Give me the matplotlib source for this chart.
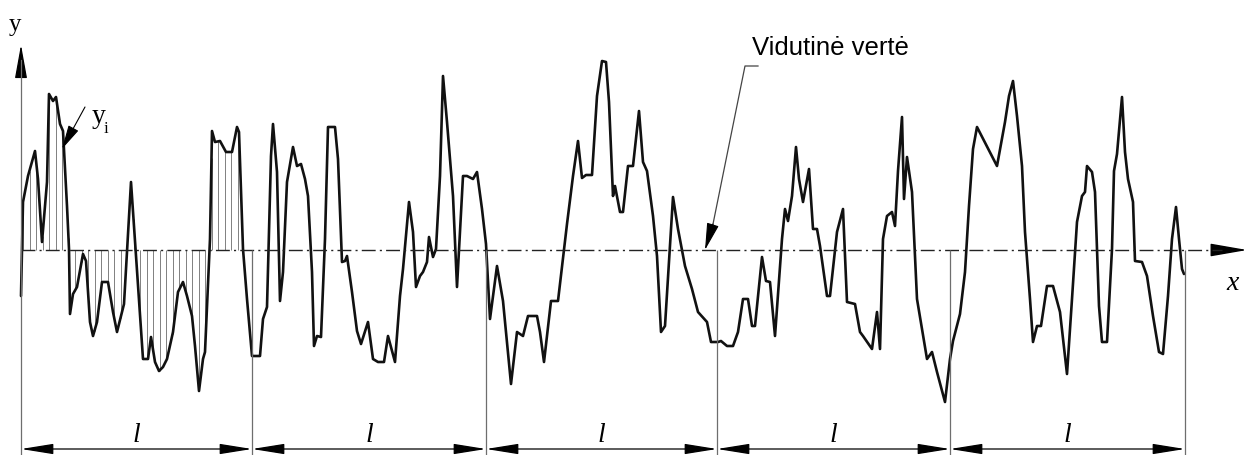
import numpy as np
import matplotlib.pyplot as plt
from matplotlib.patches import FancyArrowPatch

# profile: x position (px) and screen y (px); mean line at y=251
MEAN_Y = 251
px = [21, 23, 28, 35, 38, 42, 47, 49, 53, 56, 60, 63, 67, 69, 70, 73, 77, 83, 86, 90,
      93, 97, 102, 108, 113, 117, 124, 127, 131, 134, 138, 143, 148, 151, 155, 159, 163, 167, 173, 178,
      183, 187, 192, 195, 199, 203, 205, 210, 212, 215, 220, 226, 232, 237, 239, 243, 247, 252, 260, 263,
      267, 271, 273, 277, 280, 283, 287, 293, 297, 301, 305, 308, 312, 314, 317, 321, 325, 328, 335, 338,
      342, 345, 347, 352, 357, 361, 368, 373, 378, 384, 388, 395, 400, 403, 409, 413, 416, 420, 423, 427,
      429, 433, 436, 440, 443, 447, 453, 457, 463, 467, 473, 477, 482, 486, 490, 497, 503, 511, 517, 523,
      528, 537, 540, 544, 551, 558, 567, 573, 578, 582, 586, 592, 597, 602, 606, 609, 613, 615, 620, 623,
      628, 633, 639, 643, 647, 653, 657, 661, 665, 673, 678, 685, 692, 698, 707, 711, 718, 721, 727, 733,
      738, 743, 748, 752, 755, 762, 766, 770, 775, 782, 785, 788, 792, 796, 799, 803, 809, 813, 817, 820,
      827, 830, 837, 843, 847, 855, 860, 863, 872, 877, 880, 883, 887, 892, 895, 898, 902, 904, 907, 912,
      917, 927, 932, 937, 945, 950, 953, 960, 965, 969, 973, 977, 997, 1005, 1009, 1013, 1017, 1022, 1025, 1030,
      1033, 1037, 1041, 1047, 1053, 1060, 1067, 1072, 1077, 1082, 1085, 1087, 1092, 1095, 1099, 1102, 1107, 1112, 1114, 1117,
      1122, 1125, 1128, 1133, 1135, 1142, 1147, 1153, 1159, 1163, 1168, 1172, 1176, 1179, 1182, 1184]
py = [297, 203, 177, 152, 180, 243, 183, 95, 102, 98, 125, 132, 207, 250, 315, 295, 288, 255, 262, 323,
      337, 323, 283, 283, 313, 333, 305, 253, 183, 227, 287, 360, 360, 338, 363, 372, 368, 360, 333, 293,
      283, 297, 317, 347, 392, 360, 353, 240, 132, 143, 142, 153, 153, 128, 133, 250, 300, 357, 357, 320,
      308, 157, 125, 173, 302, 273, 183, 148, 167, 165, 180, 197, 273, 347, 337, 338, 240, 128, 128, 160,
      263, 262, 257, 293, 332, 345, 323, 360, 363, 363, 337, 363, 297, 270, 203, 233, 288, 277, 273, 263,
      238, 258, 250, 177, 77, 123, 197, 288, 177, 177, 180, 173, 210, 245, 320, 267, 302, 385, 333, 337,
      317, 317, 333, 363, 302, 302, 225, 177, 142, 179, 176, 176, 97, 62, 63, 103, 197, 187, 213, 213,
      167, 167, 112, 163, 172, 217, 257, 333, 327, 198, 230, 267, 290, 313, 323, 343, 343, 342, 347, 347,
      333, 300, 300, 327, 327, 258, 282, 283, 337, 240, 210, 222, 197, 148, 180, 203, 170, 230, 230, 247,
      297, 297, 233, 210, 303, 305, 333, 337, 350, 313, 350, 240, 217, 213, 227, 172, 118, 200, 158, 193,
      300, 360, 353, 373, 403, 360, 342, 315, 273, 207, 150, 128, 167, 123, 97, 82, 117, 167, 233, 300,
      343, 327, 327, 287, 287, 313, 375, 300, 223, 197, 193, 167, 173, 193, 307, 343, 343, 250, 172, 155,
      98, 153, 180, 203, 262, 263, 277, 317, 353, 355, 297, 240, 208, 240, 270, 275]

segment_edges = [21, 252, 486, 717, 950, 1185]
seg_label = "l"
mean_label = "Vidutinė vertė"

x = np.array(px, dtype=float)
y = MEAN_Y - np.array(py, dtype=float)

fig = plt.figure(figsize=(12.57, 4.56), dpi=100)
ax = fig.add_axes([0, 0, 1, 1])
ax.set_xlim(0, 1257)
ax.set_ylim(MEAN_Y - 456, MEAN_Y)
ax.axis("off")

thin = dict(color="#6e6e6e", lw=0.9)

# hatching of the first sampling length
hx = np.arange(23, 244, 6.5)
hy = np.interp(hx, x, y)
ax.vlines(hx, 0, hy, color="#808080", lw=0.7)

# profile
ax.plot(x, y, color="#111111", lw=1.9, solid_joinstyle="round", solid_capstyle="round")

# mean line (dash-dot) with x-axis arrow
ax.plot([21, 1222], [0, 0], color="#222222", lw=1.0, dashes=(10, 3, 1.5, 3))
ax.add_patch(FancyArrowPatch((1216, 0), (1250, 0), arrowstyle="-|>,head_length=2.3,head_width=0.4",
                             mutation_scale=10, color="black", lw=1.0))
ax.text(1233, -33, "x", fontsize=20, family="Liberation Serif", style="italic", ha="center", va="center")

# y axis
ax.plot([21, 21], [MEAN_Y - 456, 190], **thin)
ax.add_patch(FancyArrowPatch((21, 175), (21, 208), arrowstyle="-|>,head_length=2.1,head_width=0.38",
                             mutation_scale=10, color="black", lw=0.9))
ax.text(15, 226, "y", fontsize=18, family="Liberation Serif", ha="center", va="center")

# sampling length marks
dim_y = MEAN_Y - 450
ax.vlines(segment_edges[1:], MEAN_Y - 456, 0, **thin)
for a, b in zip(segment_edges[:-1], segment_edges[1:]):
    ax.add_patch(FancyArrowPatch((a, dim_y), (b, dim_y), arrowstyle="<|-|>,head_length=2.0,head_width=0.32",
                                 mutation_scale=10, color="black", lw=0.9, shrinkA=0, shrinkB=0))
    ax.text((a + b) / 2, MEAN_Y - 435, seg_label, fontsize=20, family="Liberation Serif",
            style="italic", ha="center", va="center")

# y_i annotation
ax.annotate("", xy=(62, MEAN_Y - 150), xytext=(85, MEAN_Y - 108),
            arrowprops=dict(arrowstyle="-|>,head_length=1.5,head_width=0.35", mutation_scale=10,
                            color="black", lw=0.8, shrinkA=0, shrinkB=0))
ax.text(92, MEAN_Y - 116, "y", fontsize=20, family="Liberation Serif", ha="left", va="center")
ax.text(104, MEAN_Y - 129, "i", fontsize=12, family="Liberation Serif", ha="left", va="center")

# mean value leader
ax.plot([758, 745, 712], [MEAN_Y - 67, MEAN_Y - 67, MEAN_Y - 230], color="#444444", lw=0.9)
ax.annotate("", xy=(705, 0), xytext=(713, MEAN_Y - 225),
            arrowprops=dict(arrowstyle="-|>,head_length=1.7,head_width=0.38", mutation_scale=10,
                            color="black", lw=0.8, shrinkA=0, shrinkB=0))
ax.text(830, MEAN_Y - 48, mean_label, fontsize=18.5, family="Liberation Sans", ha="center", va="center")

fig.savefig("out.png", dpi=100)
